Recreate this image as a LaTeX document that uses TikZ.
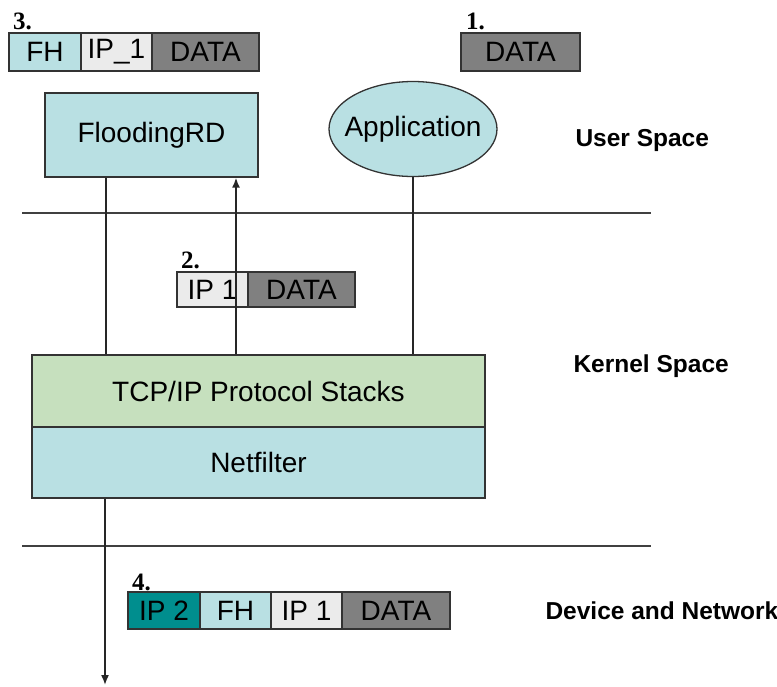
\documentclass[tikz,border=0pt]{standalone}
\usepackage{fontspec}
\setmainfont{Liberation Sans}
\newfontfamily\numfont{Liberation Serif}
\usetikzlibrary{shapes.geometric,arrows.meta}
\definecolor{lblue}{HTML}{B9E0E3}
\definecolor{lgreen}{HTML}{C6E0BE}
\definecolor{lgray}{HTML}{EBEBEB}
\definecolor{dgray}{HTML}{808080}
\definecolor{teal2}{HTML}{008E8E}
\definecolor{edge}{HTML}{333333}
\begin{document}
\begin{tikzpicture}[x=1pt,y=-1pt,
  box/.style={draw=edge, line width=1.3pt, inner sep=0pt, font=\fontsize{28}{30}\selectfont},
  seg/.style={draw=edge, line width=1.3pt, inner sep=0pt, outer sep=0pt, anchor=west, font=\fontsize{28}{30}\selectfont},
  lab/.style={anchor=west, font=\fontsize{24.5}{27}\selectfont\bfseries},
  num/.style={anchor=base west, inner sep=0pt, font=\fontsize{25}{27}\numfont\bfseries},
  conn/.style={line width=1.6pt, black!85},
  sep/.style={line width=1.8pt, black!75}
]
\useasboundingbox (0,0) rectangle (777,686);

% packet 3
\node[num] (n3) at (13,29) {3.};
\node[seg, fill=lblue, minimum width=72pt, minimum height=38pt] (p3a) at (9,52) {FH};
\node[seg, fill=lgray, minimum width=71pt, minimum height=38pt] (p3b) at (p3a.east) {IP\_1};
\node[seg, fill=dgray, minimum width=107pt, minimum height=38pt] (p3c) at (p3b.east) {DATA};

% packet 1
\node[num] (n1) at (466,29) {1.};
\node[seg, fill=dgray, minimum width=119pt, minimum height=38pt] (p1) at (461,52) {DATA};

% user space nodes
\node[box, fill=lblue, minimum width=213pt, minimum height=84pt] (flood) at (151.5,135) {FloodingRD};
\node[box, ellipse, fill=lblue, minimum width=168pt, minimum height=95pt] (app) at (413,129) {\makebox[90pt]{Application}};
\node[lab] (us) at (572,140) {User Space};

% separators
\draw[sep] (22,213) -- (651,213);
\draw[sep] (22,546) -- (651,546);

% packet 2
\node[num] (n2) at (181,268) {2.};
\node[seg, fill=lgray, minimum width=71pt, minimum height=35pt] (p2a) at (177,289.5) {IP 1};
\node[seg, fill=dgray, minimum width=107pt, minimum height=35pt] (p2b) at (p2a.east) {DATA};

% kernel
\node[box, fill=lgreen, minimum width=453pt, minimum height=72pt] (tcp) at (258.5,391) {TCP/IP Protocol Stacks};
\node[box, fill=lblue, minimum width=453pt, minimum height=71pt] (net) at (258.5,462.5) {Netfilter};
\node[lab] (ks) at (570,366) {Kernel Space};

% connectors
\draw[conn] ([xshift=-45.5pt]flood.south) -- ([xshift=-45.5pt]flood.south |- tcp.north);
\draw[conn,-{Latex[length=10pt,width=8pt]}] ([xshift=84.5pt]flood.south |- tcp.north) -- ([xshift=84.5pt]flood.south);
\draw[conn] (app.south) -- (app.south |- tcp.north);
\coordinate (out) at (105,685);
\draw[conn,-{Latex[length=10pt,width=8pt]}] (net.south -| out) -- (out);

% packet 4
\node[num] (n4) at (132,590) {4.};
\node[seg, fill=teal2, minimum width=72pt, minimum height=37pt] (p4a) at (128,610.5) {IP 2};
\node[seg, fill=lblue, minimum width=71pt, minimum height=37pt] (p4b) at (p4a.east) {FH};
\node[seg, fill=lgray, minimum width=71pt, minimum height=37pt] (p4c) at (p4b.east) {IP 1};
\node[seg, fill=dgray, minimum width=108pt, minimum height=37pt] (p4d) at (p4c.east) {DATA};
\node[lab] (dn) at (542,611) {Device and Network};
\end{tikzpicture}
\end{document}
